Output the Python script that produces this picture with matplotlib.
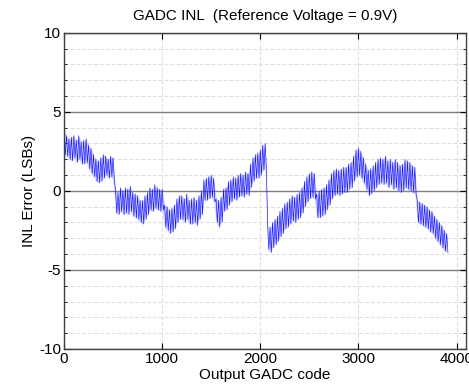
import numpy as np
import matplotlib.pyplot as plt
from matplotlib.ticker import MultipleLocator

# output code grid (every 25 codes) and the upper/lower edges of the noisy INL trace
codes = np.arange(0, 3901, 25)

inl_hi = [
    4.0, 3.5, 3.3, 3.4, 3.5, 3.2, 3.5, 3.1,
    3.2, 3.3, 2.9, 2.7, 2.3, 2.0, 1.9, 2.1,
    2.3, 2.2, 2.0, 2.2, 2.1, 0.0, -0.1, 0.2,
    0.0, 0.2, 0.1, 0.3, -0.1, -0.2, -0.3, -0.6,
    -0.6, -0.3, -0.1, 0.2, 0.1, 0.4, 0.2, 0.1,
    0.1, -0.9, -1.0, -1.2, -1.1, -0.9, -0.5, -0.3,
    -0.3, -0.5, -0.2, -0.6, -0.5, -0.4, -0.6, -0.3,
    0.0, 0.7, 0.8, 0.9, 1.0, 0.8, -0.5, -0.6,
    -0.4, 0.1, 0.2, 0.6, 0.7, 0.9, 0.8, 1.0,
    1.1, 1.0, 1.2, 1.1, 1.7, 2.1, 2.3, 2.4,
    2.6, 2.9, 3.0, -2.2, -2.3, -2.0, -1.8, -1.6,
    -1.3, -1.1, -0.8, -0.7, -0.5, -0.3, -0.4, -0.2,
    -0.1, 0.2, 0.6, 0.9, 1.1, 1.2, 1.1, -0.2,
    0.0, 0.1, 0.2, 0.4, 0.7, 1.1, 1.3, 1.4,
    1.3, 1.4, 1.5, 1.5, 1.7, 1.8, 2.2, 2.6,
    2.7, 2.5, 2.1, 1.7, 1.3, 1.4, 1.6, 1.8,
    2.0, 2.1, 2.0, 2.2, 1.9, 2.0, 1.8, 2.0,
    1.8, 1.6, 1.7, 2.0, 1.9, 1.8, 1.6, 1.5,
    -0.6, -0.7, -0.8, -0.9, -1.0, -1.2, -1.3, -1.6,
    -1.8, -2.0, -2.2, -2.5, -2.7,
]

inl_lo = [
    2.3, 2.2, 2.0, 1.9, 2.1, 1.8, 2.0, 1.7,
    1.7, 1.8, 1.4, 1.1, 0.9, 0.6, 0.5, 0.6,
    0.8, 1.0, 0.8, 0.9, 0.7, -1.4, -1.5, -1.3,
    -1.5, -1.4, -1.5, -1.3, -1.6, -1.7, -1.8, -2.0,
    -2.1, -1.8, -1.5, -1.2, -1.3, -1.1, -1.2, -1.3,
    -1.2, -2.3, -2.5, -2.7, -2.6, -2.4, -2.0, -1.8,
    -1.8, -2.0, -1.8, -2.1, -2.1, -2.0, -2.2, -1.8,
    -1.5, -0.6, -0.6, -0.5, -0.4, -0.7, -2.0, -2.3,
    -2.0, -1.3, -1.2, -0.9, -0.7, -0.5, -0.6, -0.4,
    -0.3, -0.4, -0.2, -0.3, 0.2, 0.6, 0.8, 0.8,
    1.0, 1.3, 1.4, -3.7, -3.9, -3.6, -3.4, -3.2,
    -2.9, -2.7, -2.4, -2.3, -2.1, -1.9, -2.0, -1.8,
    -1.7, -1.4, -1.0, -0.7, -0.5, -0.4, -0.5, -1.7,
    -1.7, -1.6, -1.5, -1.2, -0.9, -0.5, -0.3, -0.2,
    -0.3, -0.2, -0.1, -0.1, 0.1, 0.2, 0.6, 0.9,
    1.0, 0.8, 0.5, 0.1, -0.3, -0.2, 0.0, 0.2,
    0.4, 0.5, 0.4, 0.5, 0.2, 0.4, 0.1, 0.2,
    0.0, -0.1, 0.0, 0.2, 0.1, 0.0, -0.1, -0.2,
    -2.0, -2.1, -2.2, -2.3, -2.4, -2.6, -2.7, -3.0,
    -3.2, -3.4, -3.6, -3.8, -3.9,
]

x_ticks = [0, 1000, 2000, 3000, 4000]
y_ticks = [-10, -5, 0, 5, 10]

plt.rcParams['font.family'] = ['Liberation Sans', 'DejaVu Sans']
plt.rcParams['axes.unicode_minus'] = False

# zig-zag between the two edges so the trace reads as a dense noisy band
x = np.empty(2 * len(codes))
x[0::2] = codes
x[1::2] = codes + 12.5
y = np.empty(2 * len(codes))
y[0::2] = inl_hi
y[1::2] = inl_lo

fig = plt.figure(figsize=(4.69, 3.86), dpi=100)
ax = fig.add_axes([0.1365, 0.096, 0.857, 0.819])

ax.fill_between(codes, inl_lo, inl_hi, color='#8080ff', alpha=0.35, linewidth=0)
ax.plot(x, y, color='blue', linewidth=0.45, alpha=0.9)

ax.set_xlim(0, 4096)
ax.set_ylim(-10, 10)
ax.set_xticks(x_ticks)
ax.set_yticks(y_ticks)
ax.yaxis.set_minor_locator(MultipleLocator(1))

ax.grid(axis='y', which='major', color='#7f7f7f', linestyle='-', linewidth=1.0)
ax.grid(axis='y', which='minor', color='#e0e0e0', linestyle='--', linewidth=0.8)
ax.grid(axis='x', which='major', color='#e0e0e0', linestyle='--', linewidth=0.8)
ax.set_axisbelow(True)

ax.tick_params(which='both', direction='in', top=True, right=True, labelsize=11, pad=2)
ax.tick_params(which='major', length=4)
ax.tick_params(which='minor', length=2.5)
for s in ax.spines.values():
    s.set_color('#404040')
    s.set_linewidth(1.0)

ax.set_title('GADC INL  (Reference Voltage = 0.9V)', fontsize=11, pad=9)
ax.set_xlabel('Output GADC code', fontsize=11, labelpad=2)
ax.set_ylabel('INL Error (LSBs)', fontsize=11, labelpad=2)

fig.savefig('out.png', dpi=100)
